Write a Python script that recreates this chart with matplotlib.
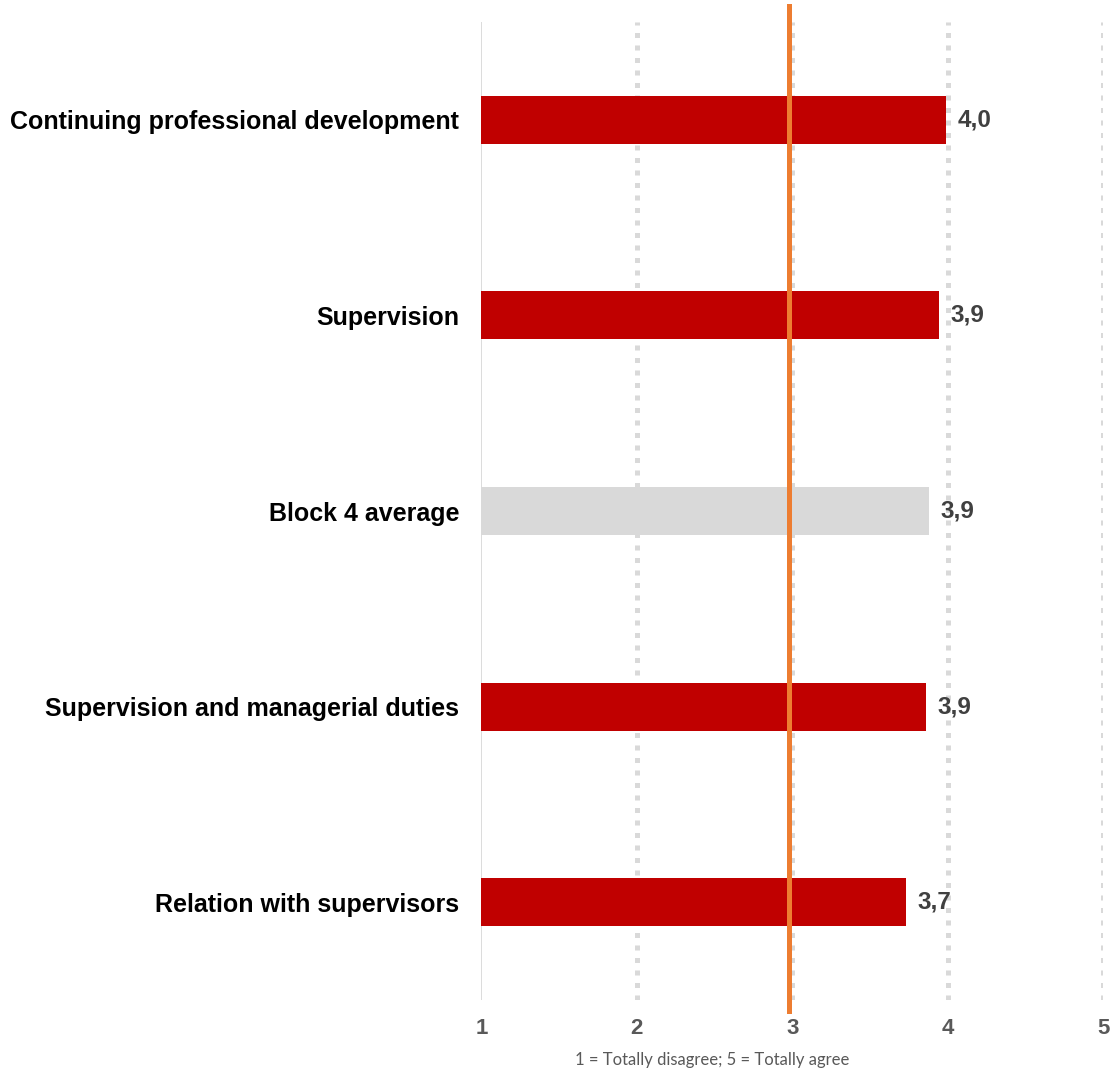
import matplotlib.pyplot as plt

# mean scores per item, 1 = Totally disagree ... 5 = Totally agree
items = [
    "Continuing professional development",
    "Supervision",
    "Block 4 average",
    "Supervision and managerial duties",
    "Relation with supervisors",
]
scores = [3.99, 3.94, 3.88, 3.86, 3.73]
is_average = [False, False, True, False, False]
midpoint = 2.98
x_ticks = [1, 2, 3, 4, 5]

red = "#C00000"
grey_bar = "#D9D9D9"
orange = "#ED7D31"

fig = plt.figure(figsize=(11.15, 10.73), dpi=100)
ax = fig.add_axes([0.4318, 0.068, 0.5577, 0.9115])

ypos = list(range(len(items)))
colors = [grey_bar if avg else red for avg in is_average]
bar_left = x_ticks[0]
ax.barh(ypos, [s - bar_left for s in scores], left=bar_left, height=0.245,
        color=colors, zorder=2)

ax.set_xlim(x_ticks[0], x_ticks[-1])
ax.set_ylim(len(items) - 0.5, -0.5)

# dotted vertical gridlines, solid line at the origin
for t in x_ticks[1:]:
    ax.axvline(t, color="#D9D9D9", lw=3.6, linestyle=(0, (1.0, 1.5)),
               dash_capstyle="butt", zorder=1)
ax.axvline(x_ticks[0], color="#D9D9D9", lw=1.3, zorder=1)

# neutral point marker
ax.axvline(midpoint, ymin=-0.011, ymax=1.016, color=orange, lw=3.6,
           zorder=3, clip_on=False)

for y, s in zip(ypos, scores):
    ax.text(s + 0.075, y, f"{s:.1f}".replace(".", ","), va="center", ha="left",
            fontsize=17.5, fontweight="bold", color="#404040",
            family="Liberation Sans", zorder=4)

ax.set_yticks(ypos)
ax.set_yticklabels(items, fontsize=18, fontweight="bold", color="black",
                   family="Liberation Sans")
ax.set_xticks(x_ticks)
ax.set_xticklabels([str(t) for t in x_ticks], fontsize=16, fontweight="bold",
                   color="#595959", family="Liberation Sans")
ax.tick_params(axis="y", length=0, pad=16)
ax.tick_params(axis="x", length=0, pad=13)

for side in ["top", "right", "left", "bottom"]:
    ax.spines[side].set_visible(False)

fig.text(0.639, 0.0121, "1 = Totally disagree; 5 = Totally agree", ha="center",
         va="center", fontsize=12, color="#595959", family="Lato")

fig.savefig("out.png", dpi=100)
